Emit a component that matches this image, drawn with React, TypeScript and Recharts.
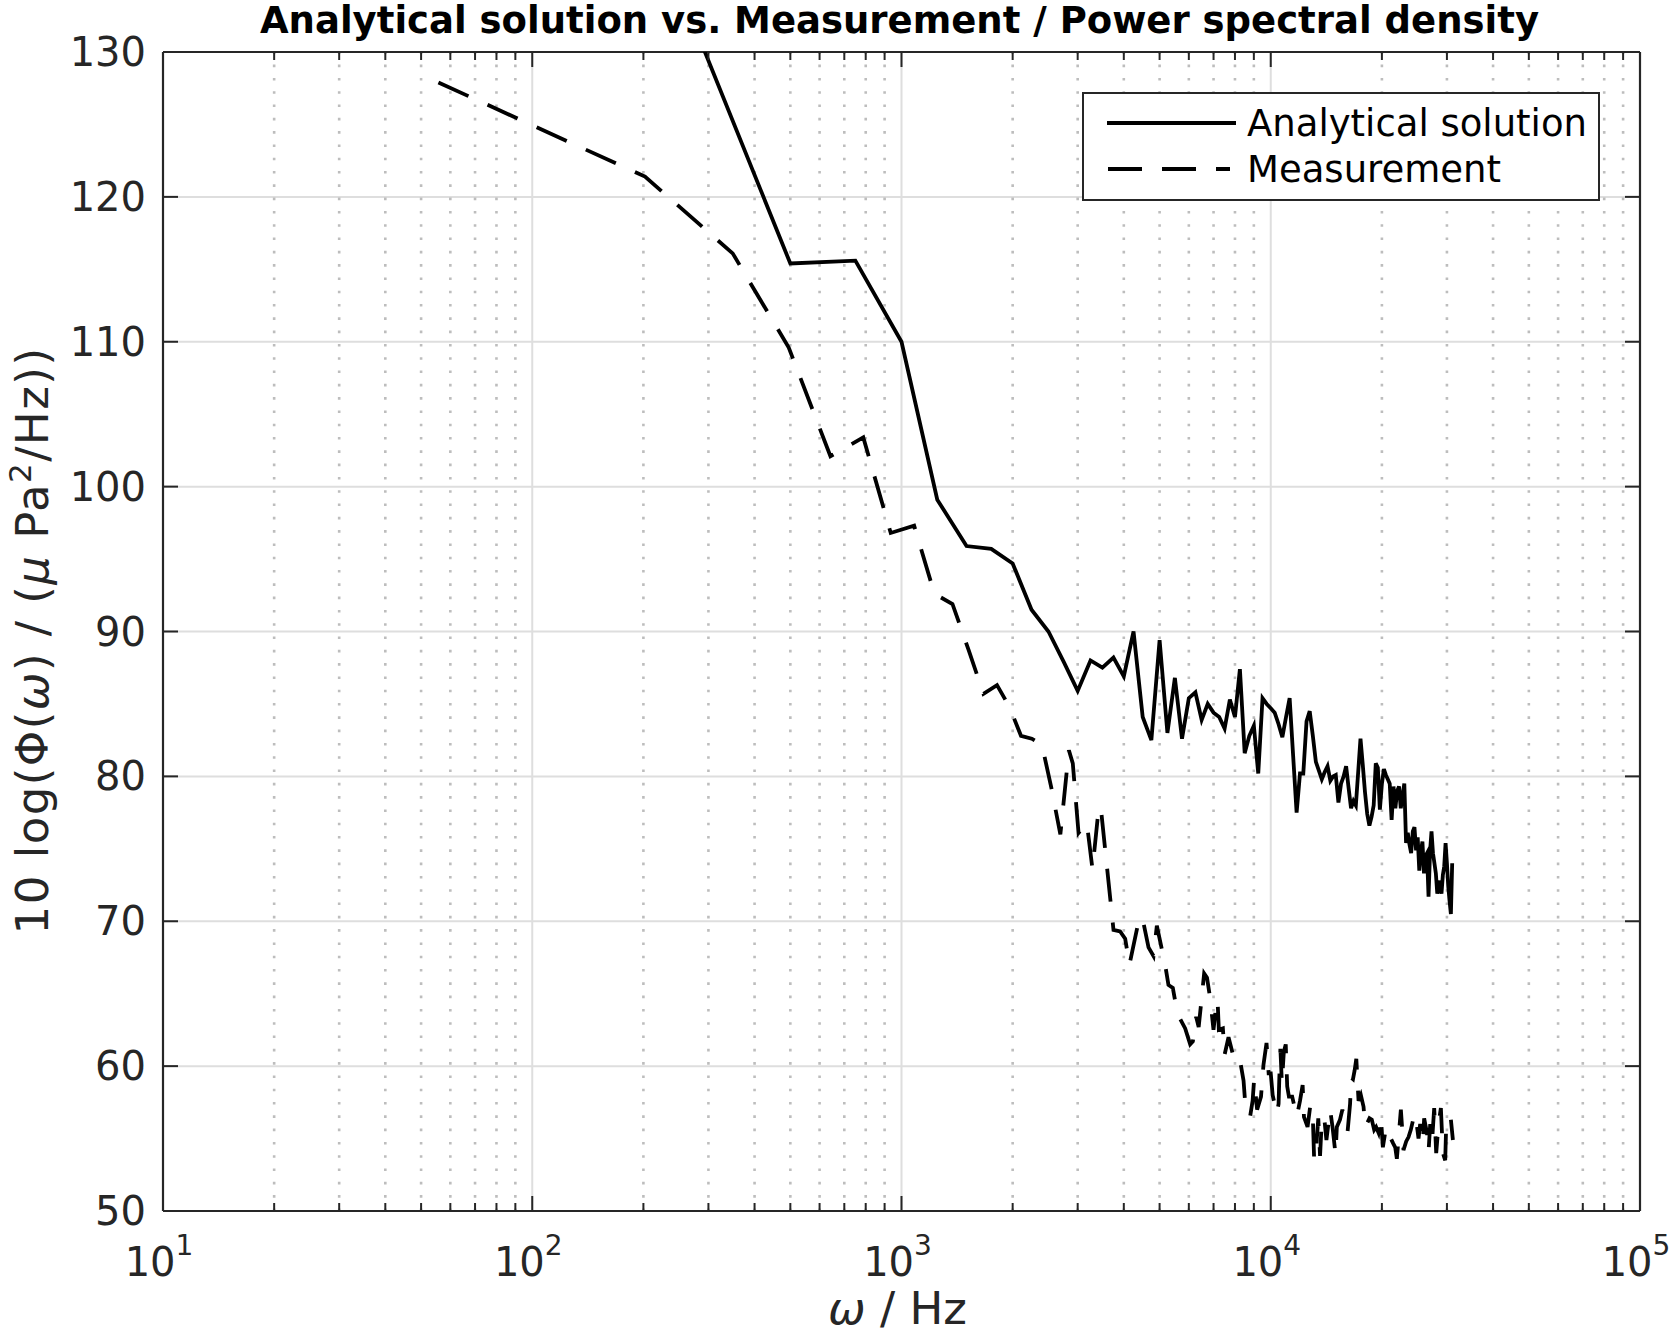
import React from 'react';
import { LineChart, Line, XAxis, YAxis, CartesianGrid, ReferenceLine } from 'recharts';

const W = 1672;
const H = 1334;
const PLOT = { left: 163, right: 1640, top: 52, bottom: 1211 };
const AXIS = '#262626';
const FONT = '"DejaVu Sans", Verdana, sans-serif';

// axes
const majorHz = [10, 100, 1000, 10000, 100000];
const minorHz = [
  20, 30, 40, 50, 60, 70, 80, 90,
  200, 300, 400, 500, 600, 700, 800, 900,
  2000, 3000, 4000, 5000, 6000, 7000, 8000, 9000,
  20000, 30000, 40000, 50000, 60000, 70000, 80000, 90000,
];
const levelTicks = [50, 60, 70, 80, 90, 100, 110, 120, 130];

// analytical solution (250 Hz grid)
const analyticalHz = [
  250, 500, 750, 1000, 1250, 1500, 1750, 2000, 2250, 2500,
  2750, 3000, 3250, 3500, 3750, 4000, 4250, 4500, 4750, 5000,
  5250, 5500, 5750, 6000, 6250, 6500, 6750, 7000, 7250, 7500,
  7750, 8000, 8250, 8500, 8750, 9000, 9250, 9500, 9750, 10000,
  10250, 10500, 10750, 11000, 11250, 11500, 11750, 12000, 12250, 12500,
  12750, 13000, 13250, 13500, 13750, 14000, 14250, 14500, 14750, 15000,
  15250, 15500, 15750, 16000, 16250, 16500, 16750, 17000, 17250, 17500,
  17750, 18000, 18250, 18500, 18750, 19000, 19250, 19500, 19750, 20000,
  20250, 20500, 20750, 21000, 21250, 21500, 21750, 22000, 22250, 22500,
  22750, 23000, 23250, 23500, 23750, 24000, 24250, 24500, 24750, 25000,
  25250, 25500, 25750, 26000, 26250, 26500, 26750, 27000, 27250, 27500,
  27750, 28000, 28250, 28500, 28750, 29000, 29250, 29500, 29750, 30000,
  30250, 30500, 30750, 31000,
];
const analyticalDb = [
  134.4, 115.4, 115.6, 110.0, 99.1, 95.9, 95.7, 94.7, 91.5, 90.0,
  87.9, 85.9, 88.0, 87.5, 88.2, 86.9, 90.0, 84.1, 82.5, 89.4,
  83.0, 86.8, 82.6, 85.4, 85.8, 83.9, 85.0, 84.4, 84.1, 83.3,
  85.3, 84.1, 87.4, 81.6, 82.8, 83.5, 80.2, 85.4, 85.0, 84.7,
  84.4, 83.6, 82.7, 84.1, 85.4, 81.4, 77.5, 80.2, 80.2, 83.8,
  84.5, 82.8, 81.0, 80.4, 79.8, 80.3, 80.7, 79.7, 80.0, 80.1,
  78.2, 79.5, 80.0, 80.7, 79.2, 77.8, 78.3, 78.0, 80.3, 82.6,
  80.8, 78.9, 77.4, 76.6, 77.2, 78.0, 80.9, 80.6, 77.7, 79.5,
  80.5, 80.1, 79.8, 79.5, 77.0, 79.3, 77.8, 79.0, 79.3, 77.8,
  78.7, 79.5, 75.4, 76.1, 75.3, 74.7, 76.2, 76.5, 74.9, 75.8,
  73.5, 74.8, 75.5, 73.3, 74.5, 74.7, 71.7, 74.8, 76.2, 74.7,
  74.0, 73.3, 71.9, 72.4, 72.8, 71.9, 73.2, 73.8, 75.4, 74.0,
  72.4, 71.4, 70.5, 74.0,
];

// measurement
const measurementHz = [
  55.7, 202, 349, 495, 642, 788, 935, 1082, 1228, 1374,
  1521, 1667, 1814, 1960, 2107, 2253, 2400, 2546, 2693, 2840,
  2910, 3016, 3176, 3290, 3423, 3480, 3751, 3909, 4034, 4143,
  4411, 4504, 4666, 4813, 4915, 5176, 5284, 5430, 5590, 5865,
  6050, 6152, 6281, 6380, 6470, 6601, 6720, 6852, 6998, 7101,
  7175, 7235, 7419, 7500, 7685, 7900, 8093, 8270, 8440, 8530,
  8790, 8930, 9016, 9185, 9411, 9557, 9740, 9870, 10000, 10120,
  10380, 10500, 10550, 10620, 10720, 10850, 10980, 11080, 11200, 11430,
  11570, 11765, 12000, 12200, 12300, 12580, 12800, 13000, 13110, 13280,
  13450, 13600, 13720, 13950, 14150, 14480, 14700, 14980, 15100, 15400,
  15630, 15870, 16150, 16400, 16520, 16700, 16870, 17050, 17290, 17540,
  17836, 18010, 18200, 18510, 18780, 19060, 19290, 19580, 19870, 20120,
  20410, 20720, 21060, 21420, 21730, 21955, 22510, 22650, 22880, 23270,
  23610, 23950, 24250, 24610, 24870, 25130, 25390, 25820, 26030, 26480,
  26750, 27030, 27310, 27710, 28060, 28470, 28890, 29250, 29680, 29870,
  30310, 30750, 31140,
];
const measurementDb = [
  127.9, 121.4, 116.1, 109.6, 102.1, 103.4, 96.8, 97.3, 92.6, 91.9,
  88.7, 85.7, 86.3, 84.8, 82.8, 82.6, 82.2, 79.2, 76.0, 81.8,
  80.9, 76.1, 76.8, 73.6, 77.9, 77.4, 69.4, 69.3, 68.8, 67.0,
  70.3, 70.1, 68.2, 67.6, 69.7, 67.0, 65.6, 65.4, 63.6, 62.6,
  61.5, 61.7, 63.4, 62.7, 64.2, 66.4, 66.1, 64.7, 62.5, 64.0,
  64.6, 62.5, 62.6, 60.8, 62.0, 60.8, 60.1, 60.3, 59.0, 57.4,
  56.5, 57.6, 59.1, 57.0, 57.9, 60.1, 61.6, 59.5, 59.5, 58.0,
  56.7, 57.4, 59.2, 61.2, 58.8, 61.0, 61.5, 58.6, 57.9, 57.9,
  57.3, 56.5, 57.6, 58.7, 56.5, 55.8, 57.3, 56.5, 53.5, 54.4,
  56.4, 53.8, 55.8, 56.5, 54.9, 57.0, 55.8, 53.9, 55.8, 56.3,
  57.0, 56.2, 55.5, 57.4, 59.2, 59.1, 59.7, 60.5, 57.6, 58.0,
  57.2, 55.8, 56.0, 56.4, 56.3, 55.6, 55.8, 55.4, 56.5, 54.4,
  55.4, 54.7, 55.1, 54.7, 54.4, 53.6, 57.0, 56.0, 54.2, 54.8,
  55.1, 55.6, 56.2, 55.4, 55.9, 55.0, 56.0, 54.7, 56.4, 55.4,
  54.1, 56.0, 54.6, 57.1, 54.0, 56.0, 57.1, 54.0, 53.5, 56.0,
  55.8, 56.3, 54.9,
];

const analytical = analyticalHz.map((f, i) => ({ f, v: analyticalDb[i] }));
const measurement = measurementHz.map((f, i) => ({ f, v: measurementDb[i] }));

const LINE_W = 3.8;
const DASH = '33 21';

function FreqTick(props: any) {
  const { x, payload } = props;
  const f = payload.value;
  const major = majorHz.includes(f);
  const len = major ? 15 : 8;
  const exp = Math.round(Math.log10(f));
  return (
    <g>
      <line x1={x} x2={x} y1={PLOT.bottom} y2={PLOT.bottom - len} stroke={AXIS} strokeWidth={2} />
      <line x1={x} x2={x} y1={PLOT.top} y2={PLOT.top + len} stroke={AXIS} strokeWidth={2} />
      {major && (
        <text x={x - 4} y={PLOT.bottom + 65} textAnchor="middle" fill={AXIS} fontSize={40} fontFamily={FONT}>
          10
          <tspan dy={-21} fontSize={28}>{exp}</tspan>
        </text>
      )}
    </g>
  );
}

function LevelTick(props: any) {
  const { y, payload } = props;
  return (
    <g>
      <line x1={PLOT.left} x2={PLOT.left + 15} y1={y} y2={y} stroke={AXIS} strokeWidth={2} />
      <line x1={PLOT.right} x2={PLOT.right - 15} y1={y} y2={y} stroke={AXIS} strokeWidth={2} />
      <text x={PLOT.left - 17} y={y} textAnchor="end" dominantBaseline="central" fill={AXIS} fontSize={40} fontFamily={FONT}>
        {payload.value}
      </text>
    </g>
  );
}

function XLabel(props: any) {
  const { viewBox } = props;
  return (
    <text x={viewBox.x + viewBox.width / 2 - 4} y={PLOT.bottom + 113} textAnchor="middle" fill={AXIS} fontSize={45} fontFamily={FONT}>
      <tspan fontStyle="italic">ω</tspan> / Hz
    </text>
  );
}

function YLabel(props: any) {
  const { viewBox } = props;
  const cy = viewBox.y + viewBox.height / 2 + 9;
  return (
    <text
      x={0}
      y={0}
      transform={`translate(48, ${cy}) rotate(-90)`}
      textAnchor="middle"
      fill={AXIS}
      fontSize={45}
      fontFamily={FONT}
      letterSpacing={1.5}
    >
      10 log(Φ(<tspan fontStyle="italic">ω</tspan>) / (<tspan fontStyle="italic">μ</tspan> Pa
      <tspan dy={-17} fontSize={31}>2</tspan>
      <tspan dy={17}>/Hz))</tspan>
    </text>
  );
}

function LegendBox() {
  return (
    <g>
      <rect x={1083} y={93} width={516} height={107} fill="#fff" stroke={AXIS} strokeWidth={2} />
      <line x1={1107} x2={1236} y1={123} y2={123} stroke="#000" strokeWidth={LINE_W} />
      <text x={1247} y={123} dominantBaseline="central" fontSize={37} fontFamily={FONT} fill="#000">
        Analytical solution
      </text>
      <line x1={1108} x2={1230} y1={169} y2={169} stroke="#000" strokeWidth={LINE_W} strokeDasharray="34 20" />
      <text x={1247} y={169} dominantBaseline="central" fontSize={37} fontFamily={FONT} fill="#000">
        Measurement
      </text>
    </g>
  );
}

export default function App() {
  return (
    <div style={{ position: 'absolute', left: 0, top: 0, width: W, height: H, background: '#fff' }}>
      <LineChart width={W} height={H} margin={{ top: PLOT.top, right: W - PLOT.right, bottom: 0, left: 0 }}>
        <CartesianGrid vertical={false} stroke="#dedede" strokeWidth={2} />
        {minorHz.map((f) => (
          <ReferenceLine key={`m${f}`} x={f} stroke="#bdbdbd" strokeWidth={2.6} strokeDasharray="2.6 10.7" />
        ))}
        {majorHz.slice(1, -1).map((f) => (
          <ReferenceLine key={`M${f}`} x={f} stroke="#dedede" strokeWidth={2} />
        ))}
        <XAxis
          dataKey="f"
          type="number"
          scale="log"
          domain={[10, 100000]}
          allowDataOverflow
          ticks={[...majorHz, ...minorHz].sort((a, b) => a - b)}
          interval={0}
          height={H - PLOT.bottom}
          tick={<FreqTick />}
          tickLine={false}
          axisLine={{ stroke: AXIS, strokeWidth: 2.2 }}
          label={<XLabel />}
        />
        <YAxis
          type="number"
          domain={[50, 130]}
          allowDataOverflow
          ticks={levelTicks}
          interval={0}
          width={PLOT.left}
          tick={<LevelTick />}
          tickLine={false}
          axisLine={{ stroke: AXIS, strokeWidth: 2.2 }}
          label={<YLabel />}
        />
        <ReferenceLine y={130} stroke={AXIS} strokeWidth={2.2} />
        <ReferenceLine x={100000} stroke={AXIS} strokeWidth={2.2} />
        <Line
          data={analytical}
          dataKey="v"
          type="linear"
          stroke="#000"
          strokeWidth={LINE_W}
          dot={false}
          isAnimationActive={false}
          name="Analytical solution"
        />
        <Line
          data={measurement}
          dataKey="v"
          type="linear"
          stroke="#000"
          strokeWidth={LINE_W}
          strokeDasharray={DASH}
          dot={false}
          isAnimationActive={false}
          name="Measurement"
        />
      </LineChart>
      <svg width={W} height={H} style={{ position: 'absolute', left: 0, top: 0, pointerEvents: 'none' }}>
        <text
          x={(PLOT.left + PLOT.right) / 2 - 2}
          y={33}
          textAnchor="middle"
          fontSize={37}
          fontWeight="bold"
          fontFamily={FONT}
          fill="#000"
        >
          Analytical solution vs. Measurement / Power spectral density
        </text>
        <LegendBox />
      </svg>
    </div>
  );
}
